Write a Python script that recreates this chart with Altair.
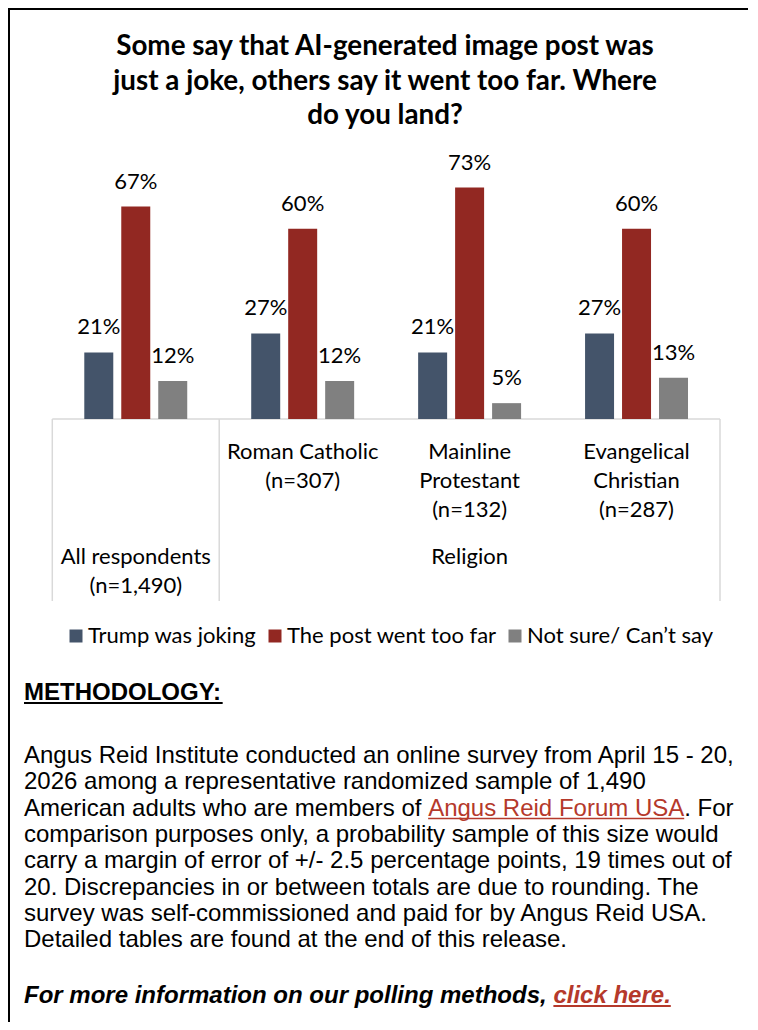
import altair as alt
import pandas as pd

# ---------------- data ----------------
TITLE_LINES = [
    "Some say that AI-generated image post was",
    "just a joke, others say it went too far. Where",
    "do you land?",
]
GROUPS = ["All respondents", "Roman Catholic", "Mainline Protestant", "Evangelical Christian"]
SERIES = ["Trump was joking", "The post went too far", "Not sure/ Can\u2019t say"]
COLORS = ["#44546A", "#922822", "#808080"]
JOKING = [21, 27, 21, 27]
TOO_FAR = [67, 60, 73, 60]
NOT_SURE = [12, 12, 5, 13]
UPPER_GROUPS = ["Roman Catholic", "Mainline Protestant", "Evangelical Christian"]
UPPER_LABELS = ["Roman Catholic\n(n=307)", "Mainline\nProtestant\n(n=132)", "Evangelical\nChristian\n(n=287)"]
LOWER_GROUPS = ["All respondents", "Mainline Protestant"]
LOWER_LABELS = ["All respondents\n(n=1,490)", "Religion"]

METH_HEAD = "METHODOLOGY:"
METH_L1 = "Angus Reid Institute conducted an online survey from April 15 - 20,"
METH_L2 = "2026 among a representative randomized sample of 1,490"
METH_L3A = "American adults who are members of "
METH_LINK = "Angus Reid Forum USA"
METH_L3B = ". For"
METH_REST = [
    "comparison purposes only, a probability sample of this size would",
    "carry a margin of error of +/- 2.5 percentage points, 19 times out of",
    "20. Discrepancies in or between totals are due to rounding. The",
    "survey was self-commissioned and paid for by Angus Reid USA.",
    "Detailed tables are found at the end of this release.",
]
FOOT_A = "For more information on our polling methods, "
FOOT_LINK = "click here."

# ---------------- layout helpers ----------------
W, H = 742, 1014
CAL = "Lato"
ARIAL = "Liberation Sans"
LINK_RED = "#B5392B"
BODY_SIZE = 24

# Arial (Liberation Sans) advance widths, /1000 em
AR = {' ': 278, 'A': 667, 'R': 722, 'F': 611, 'U': 722, 'S': 667, 'a': 556, 'b': 556, 'c': 500,
      'd': 556, 'e': 556, 'f': 278, 'g': 556, 'h': 556, 'i': 222, 'l': 222, 'm': 833, 'n': 556,
      'o': 556, 'r': 333, 's': 500, 't': 278, 'u': 556, 'w': 722, '.': 278}
ARB = {' ': 278, 'F': 611, 'M': 833, 'E': 667, 'T': 611, 'H': 722, 'O': 778, 'D': 722, 'L': 611,
       'G': 778, 'Y': 667, ':': 333, 'a': 556, 'c': 556, 'd': 611, 'e': 556, 'f': 333, 'g': 611,
       'h': 611, 'i': 278, 'k': 556, 'l': 278, 'm': 889, 'n': 611, 'o': 611, 'p': 611, 'r': 389,
       's': 556, 't': 333, 'u': 611, ',': 278, '.': 278}


def tw(s, table, size):
    return sum(table[c] for c in s) * size / 1000.0


X0, X1 = 44.3, 712.0          # category band range
BASE, TOP100 = 411.0, 94.0    # y of 0% and 100%

df = pd.DataFrame({
    "group": GROUPS * 3,
    "series": [SERIES[0]] * 4 + [SERIES[1]] * 4 + [SERIES[2]] * 4,
    "value": JOKING + TOO_FAR + NOT_SURE,
})

xscale = alt.Scale(domain=GROUPS, range=[X0, X1], paddingInner=0, paddingOuter=0)
yscale = alt.Scale(domain=[0, 100], range=[BASE, TOP100])
xoff = alt.XOffset("series:N", sort=SERIES,
                   scale=alt.Scale(domain=SERIES, paddingInner=0.216, paddingOuter=0.865))

base = alt.Chart(df)
bars = base.mark_bar().encode(
    x=alt.X("group:N", sort=GROUPS, scale=xscale, axis=None),
    xOffset=xoff,
    y=alt.Y("value:Q", scale=yscale, axis=None),
    color=alt.Color("series:N", sort=SERIES,
                    scale=alt.Scale(domain=SERIES, range=COLORS),
                    legend=alt.Legend(orient="none", legendX=57, legendY=617,
                                      direction="horizontal", title=None,
                                      symbolType="square", symbolSize=169,
                                      symbolStrokeWidth=0, labelFont=CAL,
                                      labelFontSize=22, labelColor="#000000",
                                      labelOffset=1, columnPadding=7,
                                      labelLimit=400)),
)
labels = base.mark_text(font=CAL, fontSize=22, baseline="alphabetic", dy=-18,
                        color="#000000").encode(
    x=alt.X("group:N", sort=GROUPS, scale=xscale, axis=None),
    xOffset=xoff,
    y=alt.Y("value:Q", scale=yscale, axis=None),
    text="label:N",
).transform_calculate(label="datum.value + '%'")

upper = alt.Chart(pd.DataFrame({"group": UPPER_GROUPS, "t": UPPER_LABELS})).transform_calculate(
    lines="split(datum.t, '\\n')"
).mark_text(font=CAL, fontSize=22, lineHeight=29, baseline="alphabetic",
            color="#000000").encode(
    x=alt.X("group:N", sort=GROUPS, scale=xscale, axis=None),
    y=alt.value(451), text="lines:N")

lower = alt.Chart(pd.DataFrame({"group": LOWER_GROUPS, "t": LOWER_LABELS})).transform_calculate(
    lines="split(datum.t, '\\n')"
).mark_text(font=CAL, fontSize=22, lineHeight=29, baseline="alphabetic",
            color="#000000").encode(
    x=alt.X("group:N", sort=GROUPS, scale=xscale, axis=None),
    y=alt.value(556), text="lines:N")

axis_color = "#D9D9D9"
left_div = alt.Chart(pd.DataFrame({"group": ["All respondents", "Roman Catholic"]})).mark_rule(
    color=axis_color, strokeWidth=1.5).encode(
    x=alt.X("group:N", sort=GROUPS, scale=xscale, axis=None, bandPosition=0),
    y=alt.value(BASE), y2=alt.value(593))
right_div = alt.Chart(pd.DataFrame({"group": ["Evangelical Christian"]})).mark_rule(
    color=axis_color, strokeWidth=1.5).encode(
    x=alt.X("group:N", sort=GROUPS, scale=xscale, axis=None, bandPosition=1),
    y=alt.value(BASE), y2=alt.value(593))
baseline_rule = alt.Chart(pd.DataFrame({"v": [0]})).mark_rule(
    color=axis_color, strokeWidth=1.5).encode(
    x=alt.value(X0), x2=alt.value(X1), y=alt.Y("v:Q", scale=yscale, axis=None))

one = pd.DataFrame({"k": [0]})

title = alt.Chart(one).mark_text(
    text=TITLE_LINES, font=CAL, fontWeight="bold", fontSize=27.8, lineHeight=34.5,
    align="center", baseline="alphabetic", color="#000000").encode(
    x=alt.value(377), y=alt.value(47))

frame_left = alt.Chart(one).mark_rule(color="#000000", strokeWidth=2).encode(
    x=alt.value(1), y=alt.value(0), y2=alt.value(H))
frame_top = alt.Chart(one).mark_rule(color="#000000", strokeWidth=2).encode(
    x=alt.value(0), x2=alt.value(740), y=alt.value(1))

MX = 16
head_y = 692
head = alt.Chart(one).mark_text(
    text=METH_HEAD, font=ARIAL, fontWeight="bold", fontSize=BODY_SIZE, align="left",
    baseline="alphabetic", color="#000000").encode(x=alt.value(MX), y=alt.value(head_y))
head_ul = alt.Chart(one).mark_rule(color="#000000", strokeWidth=2).encode(
    x=alt.value(MX), x2=alt.value(MX + tw(METH_HEAD, ARB, BODY_SIZE)), y=alt.value(head_y + 3))

L0 = 755
LH = 26.3
body_lines = [METH_L1, METH_L2, METH_L3A.rstrip()] + METH_REST
body = alt.Chart(one).mark_text(
    text=body_lines, font=ARIAL, fontSize=BODY_SIZE, lineHeight=LH, align="left",
    baseline="alphabetic", color="#000000").encode(x=alt.value(MX), y=alt.value(L0))
link_x = MX + tw(METH_L3A, AR, BODY_SIZE)
link_w = tw(METH_LINK, AR, BODY_SIZE)
link = alt.Chart(one).mark_text(
    text=METH_LINK, font=ARIAL, fontSize=BODY_SIZE, align="left",
    baseline="alphabetic", color=LINK_RED).encode(x=alt.value(link_x), y=alt.value(L0 + 2 * LH))
link_ul = alt.Chart(one).mark_rule(color=LINK_RED, strokeWidth=1.5).encode(
    x=alt.value(link_x), x2=alt.value(link_x + link_w), y=alt.value(L0 + 2 * LH + 3))
after = alt.Chart(one).mark_text(
    text=METH_L3B, font=ARIAL, fontSize=BODY_SIZE, align="left",
    baseline="alphabetic", color="#000000").encode(
    x=alt.value(link_x + link_w), y=alt.value(L0 + 2 * LH))

FY = 995
foot = alt.Chart(one).mark_text(
    text=FOOT_A, font=ARIAL, fontWeight="bold", fontStyle="italic", fontSize=BODY_SIZE,
    align="left", baseline="alphabetic", color="#000000").encode(x=alt.value(MX), y=alt.value(FY))
fx = MX + tw(FOOT_A, ARB, BODY_SIZE)
fw = tw(FOOT_LINK, ARB, BODY_SIZE)
foot_link = alt.Chart(one).mark_text(
    text=FOOT_LINK, font=ARIAL, fontWeight="bold", fontStyle="italic", fontSize=BODY_SIZE,
    align="left", baseline="alphabetic", color=LINK_RED).encode(x=alt.value(fx), y=alt.value(FY))
foot_ul = alt.Chart(one).mark_rule(color=LINK_RED, strokeWidth=2).encode(
    x=alt.value(fx), x2=alt.value(fx + fw), y=alt.value(FY + 3))

chart = alt.layer(
    baseline_rule, left_div, right_div, bars, labels, upper, lower, title,
    frame_left, frame_top, head, head_ul, body, link, link_ul, after,
    foot, foot_link, foot_ul,
).properties(
    width=W, height=H, padding=0, autosize=alt.AutoSizeParams(type="none"),
    background="#FFFFFF",
).configure_view(stroke=None)

chart.save("out.html", embed_options={"renderer": "svg", "actions": False})
